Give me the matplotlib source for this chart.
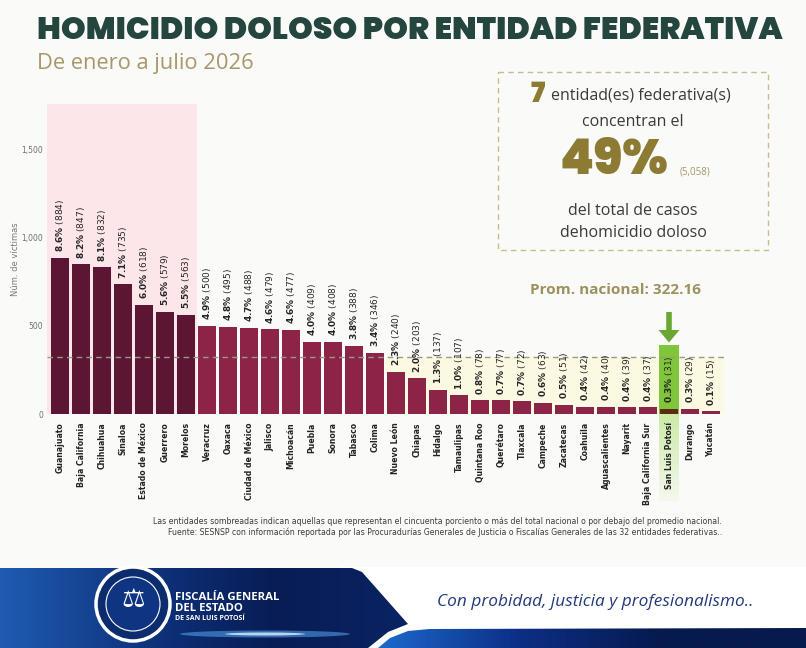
import numpy as np
import matplotlib.pyplot as plt
from matplotlib import font_manager as fm
from matplotlib.patches import Polygon, Rectangle, Circle, Ellipse
from matplotlib.colors import LinearSegmentedColormap

W, H = 806, 648

entidades = ["Guanajuato", "Baja California", "Chihuahua", "Sinaloa", "Estado de México",
             "Guerrero", "Morelos", "Veracruz", "Oaxaca", "Ciudad de México", "Jalisco",
             "Michoacán", "Puebla", "Sonora", "Tabasco", "Colima", "Nuevo León", "Chiapas",
             "Hidalgo", "Tamaulipas", "Quintana Roo", "Querétaro", "Tlaxcala", "Campeche",
             "Zacatecas", "Coahuila", "Aguascalientes", "Nayarit", "Baja California Sur",
             "San Luis Potosí", "Durango", "Yucatán"]
victimas = [884, 847, 832, 735, 618, 579, 563, 500, 495, 488, 479, 477, 409, 408, 388, 346,
            240, 203, 137, 107, 78, 77, 72, 63, 51, 42, 40, 39, 37, 31, 29, 15]
porcentaje = [8.6, 8.2, 8.1, 7.1, 6.0, 5.6, 5.5, 4.9, 4.8, 4.7, 4.6, 4.6, 4.0, 4.0, 3.8, 3.4,
              2.3, 2.0, 1.3, 1.0, 0.8, 0.7, 0.7, 0.6, 0.5, 0.4, 0.4, 0.4, 0.4, 0.3, 0.3, 0.1]
yticks = [0, 500, 1000, 1500]
ytick_labels = ["0", "500", "1,000", "1,500"]
promedio = 322.16
n_concentran = 7
pct_concentran = 49
casos_concentran = "5,058"
destacada = "San Luis Potosí"

PESOS = {'ultralight': 100, 'light': 300, 'normal': 400, 'regular': 400, 'medium': 500,
         'semibold': 600, 'demibold': 600, 'bold': 700, 'heavy': 800, 'extra bold': 800,
         'black': 900}


def peso(f):
    return f.weight if isinstance(f.weight, int) else PESOS.get(str(f.weight).lower(), 400)


def buscar_fuente(familias, peso_obj, estilo='normal', minimo=True):
    # minimo=True: la mas gruesa con peso >= peso_obj; si no, la mas cercana a peso_obj
    for fam in familias:
        c = [f for f in fm.fontManager.ttflist
             if f.name == fam and f.style == estilo and f.stretch in ('normal', 500)]
        if minimo:
            c = [f for f in c if peso(f) >= peso_obj]
            if c:
                return fm.FontProperties(fname=max(c, key=peso).fname)
        elif c:
            return fm.FontProperties(fname=min(c, key=lambda f: abs(peso(f) - peso_obj)).fname)
    return fm.FontProperties(family='DejaVu Sans', weight='bold')


f_negra = buscar_fuente(['Poppins', 'Inter', 'Lato', 'Roboto', 'Noto Sans', 'Open Sans'], 800)
f_cursiva = buscar_fuente(['Open Sans', 'Roboto', 'Lato', 'Noto Sans'], 350, 'italic', False)

fig = plt.figure(figsize=(W / 100, H / 100), dpi=100)
fig.patch.set_facecolor('#fafbf8')

# capa de decoracion en pixeles
deco = fig.add_axes([0, 0, 1, 1], zorder=0)
deco.axis('off')

ax = fig.add_axes([47.4 / W, (H - 414) / H, 676.2 / W, 310 / H], zorder=2)
ax.patch.set_alpha(0)

x = np.arange(len(entidades))
i_sl = entidades.index(destacada)
i_bajo = next(i for i, v in enumerate(victimas) if v < promedio)

colores = []
for i in range(len(entidades)):
    if i == i_sl:
        colores.append('#5a2a12')
    elif i < n_concentran:
        colores.append('#5c1634')
    else:
        colores.append('#8b2447')

# sombreados
ax.axvspan(-0.6, n_concentran - 0.5, color='#fce6e9', zorder=0, lw=0)
ax.add_patch(Rectangle((i_bajo - 0.5, 0), 31.6 - (i_bajo - 0.5), promedio,
                       color='#fcf9e2', zorder=0, lw=0))
ax.add_patch(Rectangle((i_sl - 0.47, 0), 0.94, 390, color='#7fc63a', zorder=1, lw=0))
tr = ax.get_xaxis_transform()
for k in range(12):
    ax.add_patch(Rectangle((i_sl - 0.47, -0.28 * (k + 1) / 12), 0.94, 0.28 / 12,
                           transform=tr, color='#cdeaa9', alpha=1 - k / 13, lw=0,
                           clip_on=False, zorder=0))

ax.bar(x, victimas, width=0.88, color=colores, zorder=2)
ax.axhline(promedio, color='#9a9a82', ls=(0, (4, 3)), lw=1, zorder=3)

for i, (v, p) in enumerate(zip(victimas, porcentaje)):
    ax.annotate(f"$\\mathbf{{{p:.1f}\\%}}$ ({v})", (i, v), xytext=(0, 4),
                textcoords='offset points', rotation=90, ha='center', va='bottom',
                fontsize=6.5, color='#262626', zorder=4)

ax.annotate('', xy=(i_sl, 405), xytext=(i_sl, 578),
            arrowprops=dict(facecolor='#6aa632', edgecolor='none', width=4,
                            headwidth=15, headlength=9, shrink=0), zorder=5)

ax.set_xlim(-0.6, 31.6)
ax.set_ylim(0, 1756)
ax.set_xticks(x)
ax.set_xticklabels(entidades, rotation=90, fontsize=5.6, fontweight='bold', color='#222')
ax.set_yticks(yticks)
ax.set_yticklabels(ytick_labels, fontsize=5.5, color='#707070')
ax.tick_params(length=0, pad=3)
ax.tick_params(axis='x', pad=6)
ax.set_ylabel("Núm. de víctimas", fontsize=6, color='#7a7a7a', labelpad=1)
for s in ax.spines.values():
    s.set_visible(False)

# titulo
titulo = deco.text(37, 32, "HOMICIDIO DOLOSO POR ENTIDAD FEDERATIVA", fontsize=24,
                   fontproperties=f_negra, color='#24463f', ha='left', va='center')
subtitulo = deco.text(37, 63, "De enero a julio 2026", fontsize=15,
                      family=['Open Sans', 'DejaVu Sans'], color='#a8976a',
                      ha='left', va='center')

# recuadro
deco.add_patch(Rectangle((498, 72), 270, 178, fill=False, edgecolor='#c9bb8e', lw=1,
                         ls=(0, (4, 3))))
oliva = '#8d7b33'
deco.text(545, 95, str(n_concentran), fontproperties=f_negra, color=oliva,
          ha='right', va='center').set_fontsize(20)
deco.text(551, 96, "entidad(es) federativa(s)", fontsize=11.5,
          family=['Open Sans', 'DejaVu Sans'], color='#3a3a3a', ha='left', va='center')
deco.text(633, 122, "concentran el", fontsize=11.5, family=['Open Sans', 'DejaVu Sans'],
          color='#3a3a3a', ha='center', va='center')
deco.text(614, 162, f"{pct_concentran}%", fontproperties=f_negra, color=oliva,
          ha='center', va='center').set_fontsize(35)
deco.text(680, 172, f"({casos_concentran})", fontsize=7, family=['Open Sans', 'DejaVu Sans'],
          color='#a8976a', ha='left', va='center')
deco.text(633, 211, "del total de casos", fontsize=11.5, family=['Open Sans', 'DejaVu Sans'],
          color='#3a3a3a', ha='center', va='center')
deco.text(633, 233, "dehomicidio doloso", fontsize=11.5, family=['Open Sans', 'DejaVu Sans'],
          color='#3a3a3a', ha='center', va='center')
deco.text(616, 290, f"Prom. nacional: {promedio:.2f}", fontsize=11, fontweight='bold',
          family=['Open Sans', 'DejaVu Sans'], color='#9d9160', ha='center', va='center')

# notas
notas = ["Las entidades sombreadas indican aquellas que representan el cincuenta porciento o más del total nacional o por debajo del promedio nacional.",
         "Fuente: SESNSP con información reportada por las Procuradurías Generales de Justicia o Fiscalías Generales de las 32 entidades federativas.."]
deco.text(722, 522, notas[0], fontsize=5.6, family=['Liberation Sans Narrow', 'DejaVu Sans'],
          color='#3c3c3c', ha='right', va='center')
deco.text(722, 532, notas[1], fontsize=5.6, family=['Liberation Sans Narrow', 'DejaVu Sans'],
          color='#3c3c3c', ha='right', va='center')

# pie de pagina
grad = np.linspace(0, 1, 256).reshape(1, -1)
deco.add_patch(Rectangle((340, 567), 466, 62, color='#ffffff', zorder=0, lw=0))

cmap_izq = LinearSegmentedColormap.from_list('izq', ['#1f5cb2', '#0f3580', '#081d55', '#0a2363'])
poly_izq = Polygon([(0, 568), (352, 568), (362, 572), (408, 624), (388, 632), (368, 648),
                    (0, 648)], closed=True, fill=False, edgecolor='none')
deco.add_patch(poly_izq)
im = deco.imshow(grad, extent=[0, 410, 648, 567], cmap=cmap_izq, aspect='auto', zorder=1)
im.set_clip_path(poly_izq)
deco.add_patch(Ellipse((265, 634), 170, 7, color='#5fb4ff', alpha=0.5, zorder=2, lw=0))
deco.add_patch(Ellipse((265, 634), 80, 3, color='#d8f0ff', alpha=0.8, zorder=2, lw=0))

cmap_der = LinearSegmentedColormap.from_list('der', ['#1d6ad0', '#0c2f85', '#061a4d', '#061a4d'])
poly_der = Polygon([(378, 648), (390, 638), (408, 631), (430, 629), (806, 628), (806, 648)],
                   closed=True, fill=False, edgecolor='none')
deco.add_patch(poly_der)
im2 = deco.imshow(grad, extent=[375, 806, 648, 626], cmap=cmap_der, aspect='auto', zorder=1)
im2.set_clip_path(poly_der)

deco.add_patch(Circle((133, 604), 37, facecolor='#0d2c6e', edgecolor='white', lw=2.5, zorder=3))
deco.add_patch(Circle((133, 604), 27, facecolor='#0f3582', edgecolor='white', lw=0.8, zorder=3))
deco.text(133, 600, "⚖", fontsize=19, color='white', ha='center', va='center', zorder=4)
deco.text(175, 603, "FISCALÍA GENERAL\nDEL ESTADO", fontsize=8.2, fontweight='bold',
          family=['Open Sans', 'DejaVu Sans'], color='white', ha='left', va='center',
          linespacing=0.95, zorder=4)
deco.text(175, 619, "DE SAN LUIS POTOSÍ", fontsize=5, fontweight='bold',
          family=['Open Sans', 'DejaVu Sans'], color='white', ha='left', va='center', zorder=4)
lema = deco.text(437, 602, "Con probidad, justicia y profesionalismo..", fontproperties=f_cursiva,
                 color='#22397a', ha='left', va='center', zorder=4)
lema.set_fontsize(11)

deco.set_xlim(0, W)
deco.set_ylim(H, 0)

# ajustar anchos a la referencia
fig.canvas.draw()
rend = fig.canvas.get_renderer()
for t, ancho in [(titulo, 741), (subtitulo, 216), (lema, 315)]:
    bb = t.get_window_extent(rend)
    t.set_fontsize(t.get_fontsize() * ancho / bb.width)

fig.savefig("out.png", dpi=100, facecolor=fig.get_facecolor())
